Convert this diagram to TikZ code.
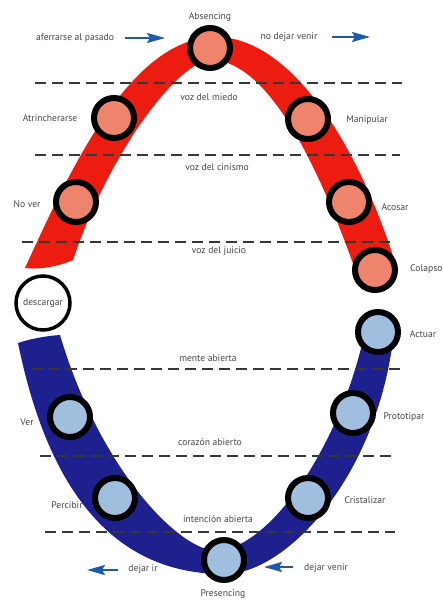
\documentclass[tikz,border=0pt]{standalone}
\usepackage{fontspec}
\setmainfont{PT Sans}
\usetikzlibrary{arrows.meta}
\definecolor{bandred}{RGB}{236,28,16}
\definecolor{salmon}{RGB}{238,132,108}
\definecolor{navyband}{RGB}{30,32,142}
\definecolor{paleblue}{RGB}{160,190,222}
\definecolor{arrowblue}{RGB}{30,90,170}
\definecolor{txtgray}{RGB}{70,70,70}
\definecolor{dashgray}{RGB}{55,55,55}
\begin{document}
\begin{tikzpicture}[x=1pt,y=-1pt,
  lbl/.style={font=\fontsize{9.6}{11}\selectfont, text=txtgray, inner sep=0pt},
  hot/.style={circle, draw=black, line width=6pt, fill=salmon, minimum size=40pt, inner sep=0pt},
  cool/.style={circle, draw=black, line width=6pt, fill=paleblue, minimum size=40pt, inner sep=0pt},
  sep/.style={draw=dashgray, line width=2.5pt, dash pattern=on 10.5pt off 6.5pt},
  flow/.style={draw=arrowblue, line width=2.2pt, -{Stealth[length=18pt,width=10pt,inset=3pt]}}]
\useasboundingbox[fill=white] (0,0) rectangle (443,604);

% red band
\fill[bandred] (25,268) .. controls (70,170) and (130,38) .. (215,37)
  .. controls (290,36) and (360,145) .. (398,272)
  -- (356,272) .. controls (320,170) and (270,62) .. (212,60)
  .. controls (180,59) and (110,150) .. (73,260)
  .. controls (60,266) and (40,270) .. (25,268) -- cycle;

% blue band
\fill[navyband] (18,343) .. controls (40,450) and (90,575) .. (225,574)
  .. controls (285,574) and (375,480) .. (393,340)
  -- (363,340) .. controls (340,440) and (275,545) .. (218,551)
  .. controls (180,552) and (100,470) .. (60,335)
  .. controls (45,336) and (30,339) .. (18,343) -- cycle;

% separators
\draw[sep] (35,83) -- (402,83);
\draw[sep] (35,155) -- (400,155);
\draw[sep] (22,242) -- (390,242);
\draw[sep] (32,369) -- (400,369);
\draw[sep] (40,456) -- (392,456);
\draw[sep] (45,532) -- (395,532);

% level labels
\node[lbl] (miedo) at (209,97) {voz del miedo};
\node[lbl] (cinismo) at (217,167) {voz del cinismo};
\node[lbl] (juicio) at (219,251) {voz del juicio};
\node[lbl] (mente) at (208,358) {mente abierta};
\node[lbl] (corazon) at (210,442) {corazón abierto};
\node[lbl] (intencion) at (218,519) {intención abierta};

% stage circles
\node[hot] (absencing) at (210,48) {};
\node[hot] (atrinch) at (114,118) {};
\node[hot] (manip) at (308,119) {};
\node[hot] (nover) at (76,202) {};
\node[hot] (acosar) at (349,202) {};
\node[hot] (colapso) at (375,270) {};
\node[circle, draw=black, line width=3.5pt, fill=white, minimum size=54pt, inner sep=0pt, lbl] (descargar) at (43,303) {descargar};
\node[cool] (actuar) at (378,332) {};
\node[cool] (ver) at (70,417) {};
\node[cool] (proto) at (353,413) {};
\node[cool] (percibir) at (115,498) {};
\node[cool] (cristal) at (308,498) {};
\node[cool] (presencing) at (224,560) {};

% stage labels
\node[lbl] (tAbs) at (210,17) {Absencing};
\node[lbl] (tAtr) at (50,118) {Atrincherarse};
\node[lbl] (tMan) at (367,120) {Manipular};
\node[lbl] (tNov) at (27,204) {No ver};
\node[lbl] (tAco) at (395,207) {Acosar};
\node[lbl, anchor=west] (tCol) at (410,269) {Colapso};
\node[lbl] (tAct) at (423,334) {Actuar};
\node[lbl] (tVer) at (27,422) {Ver};
\node[lbl] (tPro) at (404,417) {Prototipar};
\node[lbl] (tPer) at (67,505) {Percibir};
\node[lbl] (tCri) at (365,500) {Cristalizar};
\node[lbl] (tPre) at (223,594) {Presencing};

% flow labels and arrows
\node[lbl] (aferrar) at (75,38) {aferrarse al pasado};
\node[lbl] (nodejar) at (289,37) {no dejar venir};
\node[lbl] (dejarir) at (143,569) {dejar ir};
\node[lbl] (dejarvenir) at (326,568) {dejar venir};
\coordinate (s1) at (125,38);  \coordinate (a1) at (165,38);
\coordinate (s2) at (332,37);  \coordinate (a2) at (370,37);
\coordinate (s3) at (118,570); \coordinate (a3) at (87,570);
\coordinate (s4) at (293,567); \coordinate (a4) at (264,567);
\draw[flow] (s1) -- (a1);
\draw[flow] (s2) -- (a2);
\draw[flow] (s3) -- (a3);
\draw[flow] (s4) -- (a4);
\end{tikzpicture}
\end{document}
